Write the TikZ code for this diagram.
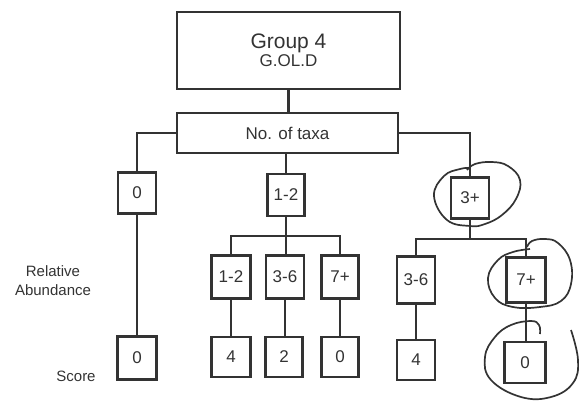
\documentclass[tikz,border=0pt]{standalone}
\usepackage{fontspec}
\setmainfont{Liberation Sans}
\definecolor{ink}{HTML}{333333}
\begin{document}
\begin{tikzpicture}[x=1pt,y=-1pt,
  every node/.style={text=ink},
  box/.style={draw=ink,line width=2.6pt,rectangle,inner sep=0pt,font=\fontsize{17}{19}\selectfont},
  conn/.style={draw=ink,line width=2.6pt},
  loop/.style={draw=ink,line width=1.7pt},
  lbl/.style={font=\fontsize{15}{19}\selectfont,align=center}]
\useasboundingbox (0,0) rectangle (582,405);
% top level
\node[box,minimum width=223pt,minimum height=77pt,align=center] (top) at (288.5,50.5)
  {\fontsize{21}{23}\selectfont Group 4\\[-1pt]\fontsize{17}{19}\selectfont G.OL.D};
\node[box,minimum width=221pt,minimum height=40pt] (taxa) at (287.5,133) {No. of taxa};
% level 2
\node[box,minimum width=38pt,minimum height=41pt] (b0) at (137,193) {0};
\node[box,minimum width=37pt,minimum height=42pt] (b12) at (286,195) {1-2};
\node[box,minimum width=38pt,minimum height=41pt] (b3p) at (470,198) {3+};
% level 3
\node[box,minimum width=39pt,minimum height=43pt] (r12) at (231,277) {1-2};
\node[box,minimum width=38pt,minimum height=43pt] (r36) at (285,277) {3-6};
\node[box,minimum width=37pt,minimum height=43pt] (r7) at (340,277) {7+};
\node[box,minimum width=38pt,minimum height=47pt] (r36b) at (416,280) {3-6};
\node[box,minimum width=39pt,minimum height=45pt] (r7b) at (526,280) {7+};
% scores
\node[box,minimum width=39pt,minimum height=43pt] (s0) at (137,358) {0};
\node[box,minimum width=39pt,minimum height=40pt] (s4) at (231,357) {4};
\node[box,minimum width=37pt,minimum height=40pt] (s2) at (284,357) {2};
\node[box,minimum width=37pt,minimum height=40pt] (s0b) at (340,357) {0};
\node[box,minimum width=38pt,minimum height=40pt] (s4b) at (416,360) {4};
\node[box,minimum width=41pt,minimum height=41pt] (s0c) at (525,362.5) {0};
% labels
\node[lbl] (relab) at (53,281) {Relative\\Abundance};
\node[lbl] (score) at (76,376) {Score};
% connectors
\draw[conn] (top.south) -- (top.south |- taxa.north);
\draw[conn] (b0.north) |- (taxa.west);
\draw[conn] (taxa.east) -| (b3p.north);
\draw[conn] (b12.north |- taxa.south) -- (b12.north);
\coordinate (j1) at (286,236);
\draw[conn] (b12.south) -- (j1);
\draw[conn] (j1) -| (r12.north);
\draw[conn] (j1) -| (r7.north);
\draw[conn] (j1) -- (j1 |- r36.north);
\coordinate (j2) at (470,239);
\draw[conn] (b3p.south) -- (j2);
\draw[conn] (j2) -| (r36b.north);
\draw[conn] (j2) -| (r7b.north);
\draw[conn] (b0.south) -- (b0.south |- s0.north);
\draw[conn] (r12.south) -- (r12.south |- s4.north);
\draw[conn] (r36.south) -- (r36.south |- s2.north);
\draw[conn] (r7.south) -- (r7.south |- s0b.north);
\draw[conn] (r36b.south) -- (r36b.south |- s4b.north);
\draw[conn] (r7b.south) -- (r7b.south |- s0c.north);
% hand-drawn loops
\draw[loop] plot[smooth,tension=0.7] coordinates {(467,170) (475,164) (492,162) (508,166) (520,180) (516,199) (502,215) (485,224) (470,226) (447,220) (434,196) (444,176) (460,169) (470,168)};
\draw[loop] plot[smooth,tension=0.7] coordinates {(527,247) (532,241) (545,239) (558,243) (570,260) (571,284) (561,301) (540,307) (513,307) (495,298) (488,278) (498,260) (513,252) (530,249)};
\draw[loop] plot[smooth,tension=0.7] coordinates {(540,334) (539,325) (531,321) (511,325) (495,337) (485,357) (491,380) (521,397) (551,397) (573,383) (578,360) (571,330)};
\end{tikzpicture}
\end{document}
